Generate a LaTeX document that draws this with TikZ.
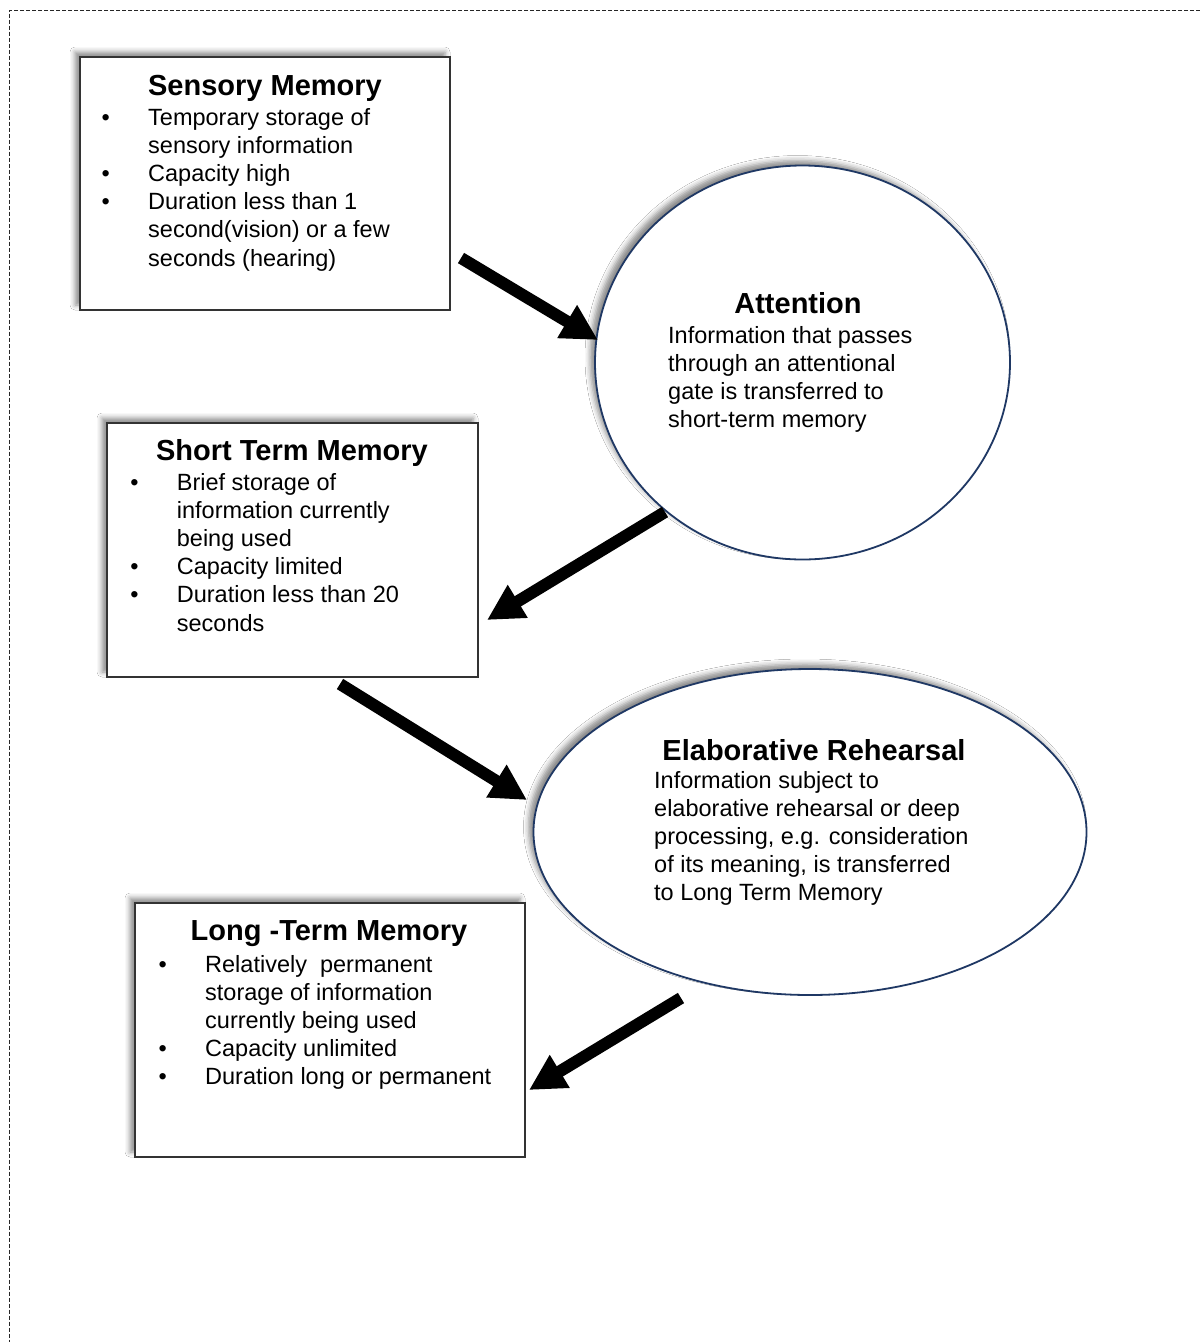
\documentclass[tikz,border=0pt]{standalone}
\usepackage{fontspec}
\setmainfont{Liberation Sans}
\usetikzlibrary{arrows.meta,shapes.geometric,shadows.blur}

\definecolor{boxline}{HTML}{333333}
\definecolor{ovalline}{HTML}{1F3864}

% width of the bullet column in the stage lists
\newlength\bulw
\setlength\bulw{46.5pt}
\newcommand\bt{\makebox[\bulw][l]{\textbullet}}
\newcommand\nb{\makebox[\bulw][l]{}}

\tikzset{
  softshadow/.style={blur shadow={shadow xshift=-5pt, shadow yshift=5pt,
      shadow blur radius=5pt, shadow opacity=45}},
  memobox/.style={draw=boxline, line width=1.4pt, fill=white, inner sep=0pt, softshadow},
  stageoval/.style={ellipse, draw=ovalline, line width=1.8pt, fill=white, inner sep=0pt, softshadow},
  headline/.style={anchor=base, inner sep=0pt, font=\fontsize{29}{34}\selectfont\bfseries},
  bodytext/.style={anchor=base west, inner sep=0pt, font=\fontsize{23.5}{28.2}\selectfont},
  flow/.style={line width=12pt, -{Triangle[length=36pt,width=36pt]}},
  pageframe/.style={dash pattern=on 4pt off 2pt, line width=0.9pt, draw=black!85}
}

\begin{document}
\begin{tikzpicture}[x=1pt,y=-1pt]
\useasboundingbox (0,0) rectangle (1200,1342);
\fill[white] (0,0) rectangle (1200,1342);

% dashed page frame (top and left edges)
\draw[pageframe] (1200,10.5) -- (9,10.5) -- (9,1342);

% memory stores
\node[memobox, minimum width=370pt, minimum height=253pt] (sens) at (265,183.5) {};
\node[memobox, minimum width=371pt, minimum height=254pt] (stm) at (292.5,550) {};
\node[memobox, minimum width=390pt, minimum height=254pt] (ltm) at (330,1030) {};

% processes
\node[stageoval, minimum width=415pt, minimum height=394pt] (att) at (802.5,362.5) {};
\node[stageoval, minimum width=553pt, minimum height=326pt] (elab) at (810,832) {};

% texts
\node[headline] (sensT) at (265,95) {Sensory Memory};
\node[bodytext] (sensB) at (101.5,125) {\begin{tabular}[t]{@{}l@{}}
\bt Temporary storage of\\
\nb sensory information\\
\bt Capacity high\\
\bt Duration less than 1\\
\nb second(vision) or a few\\
\nb seconds (hearing)
\end{tabular}};

\node[headline] (attT) at (798,313) {Attention};
\node[bodytext] (attB) at (668,343) {\begin{tabular}[t]{@{}l@{}}
Information that passes\\
through an attentional\\
gate is transferred to\\
short-term memory
\end{tabular}};

\node[headline] (stmT) at (292,460) {Short Term Memory};
\node[bodytext] (stmB) at (130.2,490) {\begin{tabular}[t]{@{}l@{}}
\bt Brief storage of\\
\nb information currently\\
\nb being used\\
\bt Capacity limited\\
\bt Duration less than 20\\
\nb seconds
\end{tabular}};

\node[headline] (elabT) at (814,760) {Elaborative Rehearsal};
\node[bodytext] (elabB) at (654,788) {\begin{tabular}[t]{@{}l@{}}
Information subject to\\
elaborative rehearsal or deep\\
processing, e.g. consideration\\
of its meaning, is transferred\\
to Long Term Memory
\end{tabular}};

\node[headline] (ltmT) at (329,940) {Long -Term Memory};
\node[bodytext] (ltmB) at (158.5,972) {\begin{tabular}[t]{@{}l@{}}
\bt Relatively~ permanent\\
\nb storage of information\\
\nb currently being used\\
\bt Capacity unlimited\\
\bt Duration long or permanent
\end{tabular}};

% arrow ends
\coordinate (f1s) at (461,258);
\coordinate (f1e) at (598,340);
\coordinate (f2s) at (665,512);
\coordinate (f2e) at (487,620);
\coordinate (f3s) at (340,684);
\coordinate (f3e) at (527,800);
\coordinate (f4s) at (681,998);
\coordinate (f4e) at (529,1090);

\draw[flow] (f1s) -- (f1e);
\draw[flow] (f2s) -- (f2e);
\draw[flow] (f3s) -- (f3e);
\draw[flow] (f4s) -- (f4e);
\end{tikzpicture}
\end{document}
